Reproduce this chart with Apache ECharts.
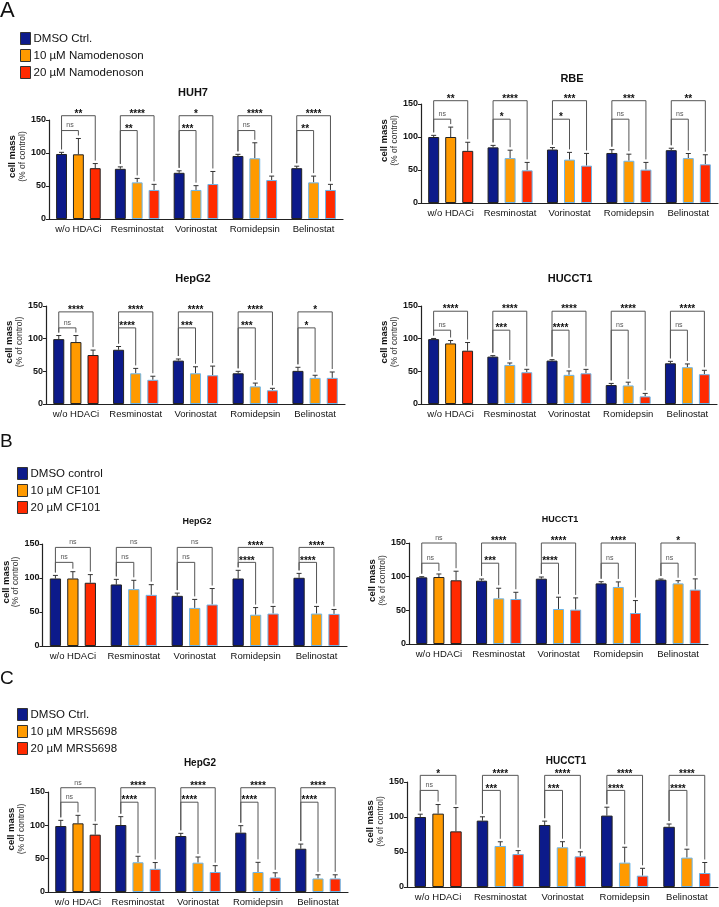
<!DOCTYPE html>
<html><head><meta charset="utf-8">
<script src="https://cdn.jsdelivr.net/npm/echarts@6/dist/echarts.min.js"></script>
<style>html,body{margin:0;padding:0;background:#fff}#c{width:719px;height:907px}</style>
</head><body><div id="c"></div><script>
// ---------- data ----------
const categories = ['w/o HDACi', 'Resminostat', 'Vorinostat', 'Romidepsin', 'Belinostat'];
const yTicks = [0, 50, 100, 150];
const legendA = ['DMSO Ctrl.', '10 µM Namodenoson', '20 µM Namodenoson'];
const legendB = ['DMSO control', '10 µM CF101', '20 µM CF101'];
const legendC = ['DMSO Ctrl.', '10 µM MRS5698', '20 µM MRS5698'];

// A: HUH7
const huh7Dmso = [98.5, 76, 70, 95.5, 77], huh7DmsoSd = [2.5, 3, 3, 2.5, 3];
const huh7D10 = [98, 55.5, 44, 92, 55.5], huh7D10Sd = [24, 6, 6.5, 23.5, 9.5];
const huh7D20 = [77, 44, 53, 59, 44], huh7D20Sd = [7, 8.5, 19, 6, 8.5];
const huh7SigHi = ['**', '****', '*', '****', '****'];
const huh7SigLo = ['ns', '**', '***', 'ns', '**'];
const huh7Brackets = [156.5, 134];
// A: RBE
const rbeDmso = [100, 84.3, 81, 75.8, 80], rbeDmsoSd = [2.5, 3, 3, 5, 3];
const rbeD10 = [100, 68, 65.7, 64, 68], rbeD10Sd = [15, 12, 11, 10, 7];
const rbeD20 = [79, 49.5, 56.6, 50.5, 58.6], rbeD20Sd = [13, 12, 18.5, 11, 14.5];
const rbeSigHi = ['**', '****', '***', '***', '**'];
const rbeSigLo = ['ns', '*', '*', 'ns', 'ns'];
const rbeBrackets = [155, 127];
// A: HepG2
const hepADmso = [99.3, 83, 66.4, 47, 50.7], hepADmsoSd = [5.5, 5, 2.5, 3, 5.5];
const hepAD10 = [94.8, 47, 47, 27, 40], hepAD10Sd = [10, 7.5, 10, 5, 4];
const hepAD20 = [75, 37, 44, 21, 40], hepAD20Sd = [7.5, 5.5, 14, 3, 9];
const hepASigHi = ['****', '****', '****', '****', '*'];
const hepASigLo = ['ns', '****', '***', '***', '*'];
const hepABrackets = [141, 116.5];
// A: HUCCT1
const hucADmso = [99.3, 72.5, 66.4, 29, 62.3], hucADmsoSd = [1, 1.5, 1.5, 2.5, 3];
const hucAD10 = [92.7, 59.8, 44.6, 28.4, 56.3], hucAD10Sd = [4.5, 3, 6, 5, 5];
const hucAD20 = [81.6, 48.6, 47, 11.7, 45.6], hucAD20Sd = [12.5, 4.5, 6, 4.5, 6];
const hucASigHi = ['****', '****', '****', '****', '****'];
const hucASigLo = ['ns', '***', '****', 'ns', 'ns'];
const hucABrackets = [142, 113];
// B: HepG2
const hepBDmso = [99.3, 90.5, 73.8, 99.3, 100.3], hepBDmsoSd = [4.5, 7.5, 4, 12, 6.5];
const hepBD10 = [99.3, 83.6, 56, 46, 47.7], hepBD10Sd = [10, 13, 12.5, 10.5, 10.5];
const hepBD20 = [93, 75.2, 61, 47.7, 47.2], hepBD20Sd = [12, 15, 23.5, 10.5, 6.5];
const hepBSigHi = ['ns', 'ns', 'ns', '****', '****'];
const hepBSigLo = ['ns', 'ns', 'ns', '****', '****'];
const hepBBrackets = [145, 123];
// B: HUCCT1
const hucBDmso = [99, 94, 97, 90, 95.5], hucBDmsoSd = [1, 2.5, 2.5, 2.5, 1];
const hucBD10 = [99.5, 67.8, 52, 84.7, 90], hucBD10Sd = [4.5, 15, 17.5, 7.5, 4];
const hucBD20 = [94.6, 66.8, 51, 46, 80.7], hucBD20Sd = [13.5, 10, 17.5, 18.5, 16];
const hucBSigHi = ['ns', '****', '****', '****', '*'];
const hucBSigLo = ['ns', '***', '****', 'ns', 'ns'];
const hucBBrackets = [150, 120];
// C: HepG2
const hepCDmso = [99, 100.5, 84, 89, 64.9], hepCDmsoSd = [8.5, 12.5, 4, 10.5, 7];
const hepCD10 = [103, 44.6, 44, 30, 20.3], hepCD10Sd = [12, 9, 8.5, 14.5, 5.5];
const hepCD20 = [86, 34.7, 30, 21.8, 20.3], hepCD20Sd = [15.5, 9.5, 9.5, 7, 5.5];
const hepCSigHi = ['ns', '****', '****', '****', '****'];
const hepCSigLo = ['ns', '****', '****', '****', '****'];
const hepCBrackets = [156.4, 134.7];
// C: HUCCT1
const hucCDmso = [100, 94.8, 88.6, 102, 86], hucCDmsoSd = [4, 5.5, 5.5, 12, 4];
const hucCD10 = [104.8, 58.6, 56.7, 34.8, 42], hucCD10Sd = [13, 6, 8, 22, 12];
const hucCD20 = [79.5, 47, 43.8, 16.2, 20], hucCD20Sd = [34, 5, 6.5, 10.5, 15];
const hucCSigHi = ['*', '****', '****', '****', '****'];
const hucCSigLo = ['ns', '***', '***', '****', '****'];
const hucCBrackets = [159.5, 138];

// ---------- layout / style ----------
const FONT = '"Liberation Sans", Arial, Helvetica, sans-serif';
const COLORS = ['#0c1a8a', '#ff9a00', '#ff2a00'];
const BAR_FRAC = 0.185, GAP_FRAC = 0.55;

const panels = [
  {title: 'HUH7', tx: 193, ty: 93, ts: 11, legend: legendA, grid: [49, 120, 294, 99],
   means: [huh7Dmso, huh7D10, huh7D20], sds: [huh7DmsoSd, huh7D10Sd, huh7D20Sd], hi: huh7SigHi, lo: huh7SigLo, br: huh7Brackets},
  {title: 'RBE', tx: 572, ty: 79, ts: 11, legend: legendA, grid: [421, 104, 297, 99],
   means: [rbeDmso, rbeD10, rbeD20], sds: [rbeDmsoSd, rbeD10Sd, rbeD20Sd], hi: rbeSigHi, lo: rbeSigLo, br: rbeBrackets},
  {title: 'HepG2', tx: 193, ty: 279, ts: 11, legend: legendA, grid: [46, 306, 299, 98],
   means: [hepADmso, hepAD10, hepAD20], sds: [hepADmsoSd, hepAD10Sd, hepAD20Sd], hi: hepASigHi, lo: hepASigLo, br: hepABrackets},
  {title: 'HUCCT1', tx: 570, ty: 279, ts: 11, legend: legendA, grid: [421, 306, 296, 98],
   means: [hucADmso, hucAD10, hucAD20], sds: [hucADmsoSd, hucAD10Sd, hucAD20Sd], hi: hucASigHi, lo: hucASigLo, br: hucABrackets},
  {title: 'HepG2', tx: 197, ty: 522, ts: 9, legend: legendB, grid: [42, 544, 305, 102],
   means: [hepBDmso, hepBD10, hepBD20], sds: [hepBDmsoSd, hepBD10Sd, hepBD20Sd], hi: hepBSigHi, lo: hepBSigLo, br: hepBBrackets},
  {title: 'HUCCT1', tx: 560, ty: 520, ts: 9, legend: legendB, grid: [409, 543, 299, 101],
   means: [hucBDmso, hucBD10, hucBD20], sds: [hucBDmsoSd, hucBD10Sd, hucBD20Sd], hi: hucBSigHi, lo: hucBSigLo, br: hucBBrackets},
  {title: 'HepG2', tx: 200, ty: 763, ts: 10, legend: legendC, grid: [48, 792, 300, 101],
   means: [hepCDmso, hepCD10, hepCD20], sds: [hepCDmsoSd, hepCD10Sd, hepCD20Sd], hi: hepCSigHi, lo: hepCSigLo, br: hepCBrackets},
  {title: 'HUCCT1', tx: 566, ty: 761, ts: 10, legend: legendC, grid: [407, 782, 311, 105],
   means: [hucCDmso, hucCD10, hucCD20], sds: [hucCDmsoSd, hucCD10Sd, hucCD20Sd], hi: hucCSigHi, lo: hucCSigLo, br: hucCBrackets}
];

function barOffset(api, s) {
  const bw = api.size([1, 0])[0] * BAR_FRAC;
  return (s - 1) * bw * (1 + GAP_FRAC);
}

function makeErrRender() {
  return function (params, api) {
    const c = api.value(0), m = api.value(1), sd = api.value(2), s = api.value(3);
    const base = api.coord([c, m]);
    const top = api.coord([c, m + sd]);
    const x = base[0] + barOffset(api, s);
    const st = {stroke: '#333', lineWidth: 1};
    return {type: 'group', children: [
      {type: 'line', shape: {x1: x, y1: base[1], x2: x, y2: top[1]}, style: st},
      {type: 'line', shape: {x1: x - 2.5, y1: top[1], x2: x + 2.5, y2: top[1]}, style: st}
    ]};
  };
}

function makeBracketRender(labels) {
  return function (params, api) {
    const c = api.value(0), t = api.value(1), lvl = api.value(2), lt = api.value(3), rt = api.value(4);
    const cx = api.coord([c, lvl])[0];
    const xL = cx + barOffset(api, 0), xR = cx + barOffset(api, t);
    const y = api.coord([c, lvl])[1];
    const yL = api.coord([c, lt])[1] - 3;
    const yR = api.coord([c, rt])[1] - 3;
    const lab = labels[params.dataIndex];
    const isNs = lab === 'ns';
    return {type: 'group', children: [
      {type: 'polyline', shape: {points: [[xL, yL], [xL, y], [xR, y], [xR, yR]]},
       style: {stroke: '#555', lineWidth: 1, fill: null}},
      {type: 'text', style: {text: lab, x: (xL + xR) / 2, y: y - 1.5,
        align: 'center', verticalAlign: isNs ? 'bottom' : 'middle',
        fontFamily: FONT, fontSize: isNs ? 7 : 10, fontWeight: isNs ? 'normal' : 'bold',
        fill: isNs ? '#555' : '#111'}}
    ]};
  };
}

const grids = [], xAxes = [], yAxes = [], series = [], graphics = [];
panels.forEach((p, i) => {
  grids.push({left: p.grid[0], top: p.grid[1], width: p.grid[2], height: p.grid[3], containLabel: false});
  xAxes.push({type: 'category', gridIndex: i, data: categories,
    axisLine: {lineStyle: {color: '#222', width: 1.2}},
    axisTick: {alignWithLabel: true, length: 3, lineStyle: {color: '#222'}},
    axisLabel: {fontFamily: FONT, fontSize: 9.5, color: '#111', margin: 5, interval: 0}});
  yAxes.push({type: 'value', gridIndex: i, min: yTicks[0], max: yTicks[yTicks.length - 1], interval: 50,
    axisLine: {show: true, lineStyle: {color: '#222', width: 1.2}},
    axisTick: {show: true, length: 3, lineStyle: {color: '#222'}},
    splitLine: {show: false},
    axisLabel: {fontFamily: FONT, fontSize: 9, fontWeight: 'bold', color: '#111', margin: 3},
    name: '{a|cell mass}\n{b|(% of control)}', nameLocation: 'middle', nameRotate: 90, nameGap: 21,
    nameTextStyle: {padding: [0, 0, 0, 26], rich: {
      a: {fontFamily: FONT, fontSize: 9.5, fontWeight: 'bold', color: '#111', lineHeight: 10},
      b: {fontFamily: FONT, fontSize: 8.5, color: '#333', lineHeight: 10}}}});
  for (let s = 0; s < 3; s++) {
    series.push({type: 'bar', name: p.legend[s], xAxisIndex: i, yAxisIndex: i,
      barWidth: (BAR_FRAC * 100) + '%', barGap: (GAP_FRAC * 100) + '%',
      itemStyle: {color: COLORS[s], borderColor: '#222', borderWidth: 1},
      data: p.means[s].map((v, k) => ({value: v, itemStyle: {
        borderColor: (s === 0 || k === 0) ? '#222' : '#6cb6ea'}})),
      emphasis: {disabled: true}, silent: true, z: 2});
  }
  const errData = [];
  for (let s = 0; s < 3; s++) for (let k = 0; k < 5; k++) errData.push([k, p.means[s][k], p.sds[s][k], s]);
  series.push({type: 'custom', xAxisIndex: i, yAxisIndex: i, renderItem: makeErrRender(),
    data: errData, clip: false, silent: true, z: 1});
  const brData = [], labels = [];
  for (let k = 0; k < 5; k++) {
    const dTop = p.means[0][k] + p.sds[0][k];
    brData.push([k, 2, p.br[0], dTop, p.means[2][k] + p.sds[2][k]]); labels.push(p.hi[k]);
    brData.push([k, 1, p.br[1], dTop, p.means[1][k] + p.sds[1][k]]); labels.push(p.lo[k]);
  }
  series.push({type: 'custom', xAxisIndex: i, yAxisIndex: i, renderItem: makeBracketRender(labels),
    data: brData, clip: false, silent: true, z: 3});
  graphics.push({type: 'text', x: p.tx, y: p.ty, style: {text: p.title, align: 'center', verticalAlign: 'middle',
    fontFamily: FONT, fontSize: p.ts, fontWeight: 'bold', fill: '#111'}});
});

graphics.push({type: 'text', x: 0, y: 11, style: {text: 'A', verticalAlign: 'middle', fontFamily: FONT, fontSize: 22, fill: '#111'}});
graphics.push({type: 'text', x: 0, y: 442, style: {text: 'B', verticalAlign: 'middle', fontFamily: FONT, fontSize: 19, fill: '#111'}});
graphics.push({type: 'text', x: 0, y: 679, style: {text: 'C', verticalAlign: 'middle', fontFamily: FONT, fontSize: 19, fill: '#111'}});

function legendCfg(names, left, top) {
  return {data: names.map(n => ({name: n, itemStyle: {borderColor: '#333', borderWidth: 1}})), orient: 'vertical', left: left, top: top,
    padding: 0, icon: 'rect', itemWidth: 10, itemHeight: 12, itemGap: 4, selectedMode: false,
    textStyle: {fontFamily: FONT, fontSize: 11.5, color: '#111', padding: [0, 0, 0, -2]}};
}

const chart = echarts.init(document.getElementById('c'), null, {renderer: 'canvas'});
chart.setOption({
  animation: false,
  backgroundColor: '#fff',
  grid: grids, xAxis: xAxes, yAxis: yAxes, series: series,
  legend: [legendCfg(legendA, 20, 32), legendCfg(legendB, 17, 467), legendCfg(legendC, 17, 708)],
  graphic: graphics
});
</script></body></html>
